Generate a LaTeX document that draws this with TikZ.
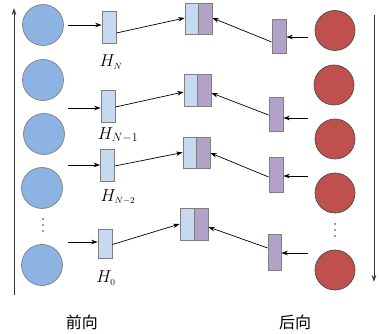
\documentclass[tikz,border=0pt]{standalone}
\usepackage{fontspec}
\setmainfont{Liberation Serif}
\newfontfamily\cjk{Noto Sans CJK SC}
\usetikzlibrary{arrows.meta,calc}
\definecolor{circblue}{HTML}{8DB3E2}
\definecolor{circred}{HTML}{C0504D}
\definecolor{boxblue}{HTML}{C6D9F1}
\definecolor{boxpurple}{HTML}{B3A2C7}
\definecolor{edge}{HTML}{7F7F7F}
\tikzset{
  fwd/.style={circle,fill=circblue,draw=edge,line width=0.7pt,minimum size=41pt,inner sep=0pt},
  bwd/.style={circle,fill=circred,draw=edge!60!black,line width=0.7pt,minimum size=40pt,inner sep=0pt},
  bbox/.style={rectangle,fill=boxblue,draw=edge,line width=0.8pt,minimum width=14pt,minimum height=32pt,inner sep=0pt},
  pbox/.style={rectangle,fill=boxpurple,draw=edge,line width=0.8pt,minimum width=14pt,minimum height=34pt,inner sep=0pt},
  arr/.style={-{Stealth[length=6.5pt,width=4.5pt]},line width=0.7pt,black},
  lbl/.style={font=\fontsize{18}{20}\selectfont,inner sep=0pt},
  axis/.style={-{Stealth[length=7pt,width=4.5pt]},line width=0.8pt,black!80},
  dotmark/.style={circle,fill=black!80,inner sep=0pt,minimum size=1.6pt}
}
\begin{document}
\begin{tikzpicture}[x=1pt,y=-1pt]
\useasboundingbox (0,0) rectangle (381,334);
% left circles
\node[fwd] (l1) at (43,25) {};
\node[fwd] (l2) at (43,80) {};
\node[fwd] (l3) at (44,134) {};
\node[fwd] (l4) at (42,188) {};
\node[fwd] (l5) at (42,265) {};
\node[dotmark] (ld1) at (43,219) {};
\node[dotmark] (ld2) at (43,225) {};
\node[dotmark] (ld3) at (43,231) {};
% right circles
\node[bwd] (r1) at (335,30.5) {};
\node[bwd] (r2) at (334,85) {};
\node[bwd] (r3) at (335,139) {};
\node[bwd] (r4) at (335,193) {};
\node[bwd] (r5) at (335,270) {};
\node[dotmark] (rd1) at (335,224) {};
\node[dotmark] (rd2) at (335,230) {};
\node[dotmark] (rd3) at (335,236) {};
% small blue boxes
\node[bbox] (h1) at (109,27) {};
\node[bbox] (h2) at (108,106) {};
\node[bbox] (h3) at (107.5,165) {};
\node[bbox,minimum height=29pt] (h4) at (105,243.5) {};
% labels
\node[lbl] (t1) at (111,62) {$H_{\scriptscriptstyle N}$};
\node[lbl] (t2) at (118,135) {$H_{N-1}$};
\node[lbl] (t3) at (118,197) {$H_{\scriptscriptstyle N-2}$};
\node[lbl] (t4) at (106,278) {$H_{\scriptscriptstyle 0}$};
% combined boxes
\node[bbox,minimum width=13.5pt,minimum height=31pt] (c1a) at (191.75,18.5) {};
\node[pbox,minimum width=13.5pt,minimum height=31pt] (c1b) at (205.25,18.5) {};
\node[bbox,minimum width=13.5pt] (c2a) at (190.75,90) {};
\node[pbox,minimum width=13.5pt,minimum height=32pt] (c2b) at (204.25,90) {};
\node[bbox,minimum width=13.5pt,minimum height=31pt] (c3a) at (189.75,152.5) {};
\node[pbox,minimum width=13.5pt,minimum height=31pt] (c3b) at (203.25,152.5) {};
\node[bbox] (c4a) at (187,224) {};
\node[pbox,minimum height=32pt] (c4b) at (201,224) {};
% purple small boxes
\node[pbox] (p1) at (279,36) {};
\node[pbox] (p2) at (276,114) {};
\node[pbox,minimum height=35pt] (p3) at (276,174.5) {};
\node[pbox,minimum width=13pt,minimum height=36pt] (p4) at (274.5,252) {};
% arrows circle -> blue box
\coordinate (a1) at (68,25);
\coordinate (a2) at (68,108);
\coordinate (a3) at (68,165);
\coordinate (a4) at (68,242);
\draw[arr] (a1) -- (a1 -| h1.west);
\draw[arr] (a2) -- (a2 -| h2.west);
\draw[arr] (a3) -- (a3 -| h3.west);
\draw[arr] (a4) -- (a4 -| h4.west);
% blue box -> combined
\draw[arr] ($(h1.east)+(0,6)$) -- ($(c1a.west)+(0,-0.5)$);
\draw[arr] ($(h2.east)+(0,1)$) -- ($(c2a.west)+(0,2)$);
\draw[arr] ($(h3.east)+(0,1)$) -- ($(c3a.west)+(0,0)$);
\draw[arr] ($(h4.east)+(0,1)$) -- ($(c4a.west)+(0,0)$);
% right circle -> purple box
\coordinate (b1) at (308,37);
\coordinate (b2) at (308,118);
\coordinate (b3) at (308,176);
\coordinate (b4) at (308,253);
\draw[arr] (b1) -- (b1 -| p1.east);
\draw[arr] (b2) -- (b2 -| p2.east);
\draw[arr] (b3) -- (b3 -| p3.east);
\draw[arr] (b4) -- (b4 -| p4.east);
% purple box -> combined
\draw[arr] ($(p1.west)+(0,6)$) -- ($(c1b.east)+(0,-0.5)$);
\draw[arr] ($(p2.west)+(0,1)$) -- ($(c2b.east)+(0,3)$);
\draw[arr] ($(p3.west)+(0,2.5)$) -- ($(c3b.east)+(0,0.5)$);
\draw[arr] ($(p4.west)+(0,-4)$) -- ($(c4b.east)+(0,3)$);
% axes
\coordinate (fa) at (14,295);
\coordinate (fb) at (14,8);
\draw[axis] (fa) -- (fb);
\coordinate (ba) at (374,15);
\coordinate (bb) at (374,282);
\draw[axis] (ba) -- (bb);
% bottom labels
\node[font=\cjk\fontsize{16}{18}\selectfont,inner sep=0pt] (fw) at (82,322) {前向};
\node[font=\cjk\fontsize{16}{18}\selectfont,inner sep=0pt] (bw) at (295,322) {后向};
\end{tikzpicture}
\end{document}
